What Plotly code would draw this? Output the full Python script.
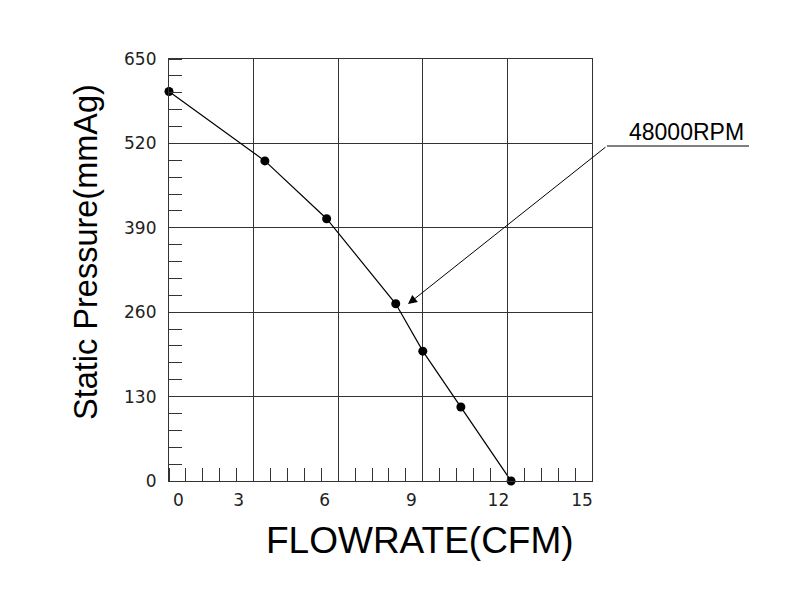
import plotly.graph_objects as go

# ---- data ----
FLOW = [0, 3.40, 5.59, 8.04, 9.0, 10.35, 12.13]          # CFM
PRESSURE = [600, 493, 404, 273, 200, 114, 0]              # mmAg
X_TICKS = [0, 3, 6, 9, 12, 15]
X_TICK_TEXT = ["0", "3", "6", "9", "12", "15"]
Y_TICKS = [0, 130, 260, 390, 520, 650]
Y_TICK_TEXT = ["0", "130", "260", "390", "520", "650"]
CURVE_LABEL = "48000RPM"
ARROW_TIP = (8.475, 272.6)        # data point the label arrow points to
ARROW_TAIL = (15.53, 516.0)

# ---- layout constants (pixels) ----
W, H = 800, 600
L, R, T, B = 169, 208, 59, 119
PW = W - L - R
PH = H - T - B
X_RANGE = [0, 15]
Y_RANGE = [0, 650]
PX_PER_X = PW / (X_RANGE[1] - X_RANGE[0])
X_LABEL_SHIFT_PX = [9.5, -15, -13.5, -11.5, -9, -10]
x_label_pos = [t + s / PX_PER_X for t, s in zip(X_TICKS, X_LABEL_SHIFT_PX)]

LINE_C = "#333333"
TICK_FONT = dict(family="DejaVu Sans", size=17, color="#222222")

fig = go.Figure()
fig.add_trace(go.Scatter(
    x=FLOW, y=PRESSURE, mode="lines+markers",
    line=dict(color="black", width=1.2),
    marker=dict(color="black", size=9),
    cliponaxis=False, showlegend=False, hoverinfo="skip",
))
# empty trace to register the label axis
fig.add_trace(go.Scatter(x=[], y=[], xaxis="x2", showlegend=False))

fig.update_layout(
    width=W, height=H,
    margin=dict(l=L, r=R, t=T, b=B),
    paper_bgcolor="white", plot_bgcolor="white",
    xaxis=dict(
        range=X_RANGE, tickmode="array", tickvals=X_TICKS,
        showticklabels=False, ticks="",
        showgrid=True, gridcolor=LINE_C, gridwidth=1,
        showline=True, linecolor=LINE_C, linewidth=1.2, mirror=True,
        zeroline=False,
        minor=dict(dtick=0.6, tick0=0, ticks="inside", ticklen=13,
                   tickcolor=LINE_C, tickwidth=1.2, showgrid=False),
    ),
    xaxis2=dict(
        overlaying="x", anchor="y", side="bottom", range=X_RANGE,
        tickmode="array", tickvals=x_label_pos, ticktext=X_TICK_TEXT,
        ticks="", showgrid=False, zeroline=False, showline=False,
        tickfont=TICK_FONT, ticklabelstandoff=7,
    ),
    yaxis=dict(
        range=Y_RANGE, tickmode="array", tickvals=Y_TICKS, ticktext=Y_TICK_TEXT,
        ticks="", tickfont=TICK_FONT, ticklabelstandoff=8,
        showgrid=True, gridcolor=LINE_C, gridwidth=1,
        showline=True, linecolor=LINE_C, linewidth=1.2, mirror=True,
        zeroline=False,
        minor=dict(dtick=26, tick0=0, ticks="inside", ticklen=13,
                   tickcolor=LINE_C, tickwidth=1.2, showgrid=False),
    ),
    annotations=[
        dict(text="FLOWRATE(CFM)", xref="paper", yref="paper",
             x=(420 - L) / PW, y=(H - B - 540) / PH,
             xanchor="center", yanchor="middle", showarrow=False,
             font=dict(family="Liberation Sans", size=37, color="black")),
        dict(text="Static Pressure(mmAg)", xref="paper", yref="paper",
             x=(86 - L) / PW, y=(H - B - 252) / PH, textangle=-90,
             xanchor="center", yanchor="middle", showarrow=False,
             font=dict(family="Liberation Sans", size=32.5, color="black")),
        dict(text=CURVE_LABEL, xref="paper", yref="paper",
             x=(686.5 - L) / PW, y=(H - B - 132) / PH,
             xanchor="center", yanchor="middle", showarrow=False,
             font=dict(family="Liberation Sans", size=23, color="black")),
        dict(text="", x=ARROW_TIP[0], y=ARROW_TIP[1], xref="x", yref="y",
             ax=ARROW_TAIL[0], ay=ARROW_TAIL[1], axref="x", ayref="y",
             showarrow=True, arrowhead=2, arrowsize=1.8, arrowwidth=1,
             arrowcolor="black"),
    ],
    shapes=[
        dict(type="line", xref="paper", yref="paper",
             x0=(607 - L) / PW, x1=(749 - L) / PW,
             y0=(H - B - 146) / PH, y1=(H - B - 146) / PH,
             line=dict(color="black", width=1)),
    ],
)

fig.write_html("out.html")
